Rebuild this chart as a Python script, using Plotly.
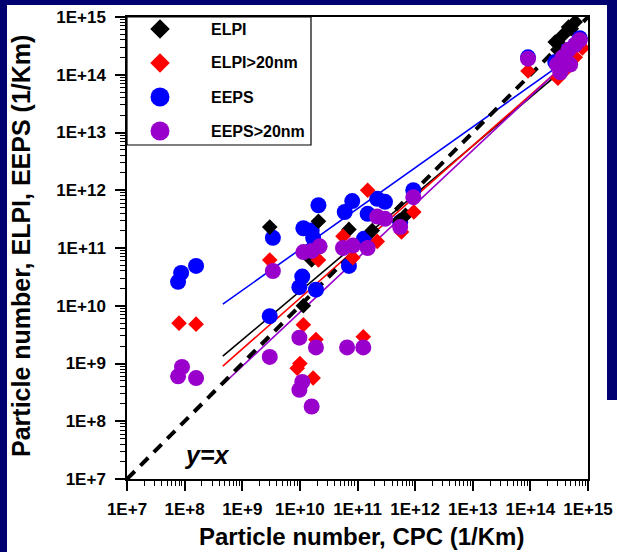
import numpy as np
import plotly.graph_objects as go

# ---------------- data ----------------
elpi_x = [3.0e9, 2.1e10, 1.6e10, 1.15e10, 7.1e10, 1.8e11, 5.3e11, 6.8e11,
          2.7e14, 4.6e14, 6.0e14, 3.7e14, 3.0e14]
elpi_y = [2.3e11, 2.9e11, 6.2e10, 1.0e10, 2.1e11, 2.0e11, 3.0e11, 3.7e11,
          3.7e14, 6.7e14, 8.2e14, 4.9e14, 2.7e14]

elpi20_x = [8.0e7, 1.58e8, 3.0e9, 2.1e10, 1.15e10, 1.0e10, 1.7e10, 1.9e10, 9.0e9,
            1.26e11, 1.5e11, 5.6e10, 2.2e11, 9.5e11, 8.3e10, 5.8e11,
            9.1e13, 3.0e14, 4.0e14, 6.0e14, 8.0e14, 3.3e14]
elpi20_y = [5.0e9, 4.8e9, 6.2e10, 6.2e10, 4.7e9, 1.0e9, 5.6e8, 2.6e9, 8.3e8,
            2.9e9, 1.0e12, 1.6e11, 1.3e11, 4.2e11, 6.8e10, 1.9e11,
            1.16e14, 8.7e13, 1.2e14, 2.0e14, 2.9e14, 1.3e14]

eeps_x = [7.7e7, 8.7e7, 1.58e8, 3.4e9, 3.0e9, 2.1e10, 1.15e10, 1.6e10, 1.7e10,
          1.1e10, 9.8e9, 1.9e10, 8.1e10, 6.0e10, 1.5e11, 2.2e11, 3.0e11, 9.3e11,
          7.1e10, 1.3e11, 5.5e11,
          9.1e13, 2.7e14, 4.0e14, 6.0e14, 7.2e14]
eeps_y = [2.6e10, 3.7e10, 4.9e10, 1.5e11, 6.6e9, 5.5e11, 2.2e11, 2.0e11, 1.5e11,
          3.2e10, 2.1e10, 1.9e10, 6.5e11, 4.2e11, 3.9e11, 7.1e11, 6.3e11, 1.0e12,
          4.9e10, 1.45e11, 2.8e11,
          2.0e14, 1.66e14, 2.5e14, 3.3e14, 4.3e14]

eeps20_x = [7.7e7, 9.0e7, 1.58e8, 3.4e9, 3.0e9, 1.15e10, 1.6e10, 2.2e10, 9.8e9,
            1.9e10, 1.1e10, 9.8e9, 1.6e10, 6.6e10, 1.26e11, 5.6e10, 8.3e10,
            1.5e11, 2.2e11, 3.0e11, 5.5e11, 9.3e11,
            9.1e13, 2.9e14, 3.6e14, 4.6e14, 6.0e14, 7.2e14, 4.9e14, 3.3e14]
eeps20_y = [6.0e8, 8.7e8, 5.6e8, 4.0e10, 1.3e9, 8.5e10, 8.9e10, 1.07e11, 2.8e9,
            1.9e9, 4.8e8, 3.5e8, 1.8e8, 1.9e9, 1.9e9, 1.0e11, 1.1e11,
            1.0e11, 3.5e11, 3.2e11, 2.3e11, 7.6e11,
            1.9e14, 1.5e14, 2.0e14, 2.7e14, 3.3e14, 4.0e14, 1.5e14, 1.1e14]

# power-law fits (log10 y = intercept + slope * log10 x)
fit_slope = {"ELPI": 0.84, "ELPI>20nm": 0.88, "EEPS": 0.708, "EEPS>20nm": 0.935}
fit_intercept = {"ELPI": 1.85, "ELPI>20nm": 1.33, "EEPS": 3.894, "EEPS>20nm": 0.536}
fit_x_range = [4.6e8, 5.6e14]

identity_range = [1e7, 1e15]

tick_exponents = list(range(7, 16))
tick_labels = ["1E+%d" % k for k in tick_exponents]

series_names = ["ELPI", "ELPI>20nm", "EEPS", "EEPS>20nm"]

# ---------------- styling ----------------
FONT = "Liberation Sans, Arial, sans-serif"
NAVY = "#000070"
colors = {"ELPI": "black", "ELPI>20nm": "#FF0000", "EEPS": "#0000FF", "EEPS>20nm": "#9900CC"}
symbols = {"ELPI": "diamond", "ELPI>20nm": "diamond", "EEPS": "circle", "EEPS>20nm": "circle"}
sizes = {"ELPI": 12, "ELPI>20nm": 12, "EEPS": 16, "EEPS>20nm": 16}
leg_sizes = {"ELPI": 15, "ELPI>20nm": 15, "EEPS": 19, "EEPS>20nm": 19}

W, H = 617, 552
L, R, T, B = 127, 588, 17, 479  # plot area in pixels


def fx(p):
    return (p - L) / (R - L)


def fy(p):
    return (B - p) / (B - T)


fig = go.Figure()

# fit lines
for name in ["EEPS", "ELPI", "ELPI>20nm", "EEPS>20nm"]:
    lx = np.linspace(np.log10(fit_x_range[0]), np.log10(fit_x_range[1]), 50)
    ly = fit_intercept[name] + fit_slope[name] * lx
    fig.add_trace(go.Scatter(x=10 ** lx, y=10 ** ly, mode="lines",
                             line=dict(color=colors[name], width=1.6),
                             hoverinfo="skip", showlegend=False))

# y = x
fig.add_trace(go.Scatter(x=identity_range, y=identity_range, mode="lines",
                         line=dict(color="black", width=4, dash="11px,8px"),
                         showlegend=False))

data = {"ELPI": (elpi_x, elpi_y), "ELPI>20nm": (elpi20_x, elpi20_y),
        "EEPS": (eeps_x, eeps_y), "EEPS>20nm": (eeps20_x, eeps20_y)}
for name in ["EEPS", "ELPI", "ELPI>20nm", "EEPS>20nm"]:
    xs, ys = data[name]
    fig.add_trace(go.Scatter(x=xs, y=ys, mode="markers", name=name,
                             marker=dict(symbol=symbols[name], size=sizes[name],
                                         color=colors[name], line=dict(width=0)),
                             showlegend=False))

# manual legend on an overlay axis
leg_rows_px = [29, 63, 97, 131]
for name, rp in zip(series_names, leg_rows_px):
    fig.add_trace(go.Scatter(x=[fx(160)], y=[fy(rp)], mode="markers",
                             xaxis="x2", yaxis="y2", cliponaxis=False,
                             marker=dict(symbol=symbols[name], size=leg_sizes[name],
                                         color=colors[name], line=dict(width=0)),
                             showlegend=False, hoverinfo="skip"))
    fig.add_annotation(x=fx(209), y=fy(rp), xref="paper", yref="paper",
                       text="<b>%s</b>" % name.replace(">", "&gt;"), showarrow=False,
                       xanchor="left", yanchor="middle",
                       font=dict(family=FONT, size=16, color="black"))

shapes = [
    dict(type="rect", xref="paper", yref="paper", x0=fx(L), x1=fx(311), y0=fy(145), y1=fy(T),
         line=dict(color="black", width=1.2), fillcolor="rgba(0,0,0,0)", layer="above"),
    # navy slide border
    dict(type="rect", xref="paper", yref="paper", x0=fx(0), x1=fx(7), y0=fy(H), y1=fy(0),
         line=dict(width=0), fillcolor=NAVY, layer="above"),
    dict(type="rect", xref="paper", yref="paper", x0=fx(0), x1=fx(W), y0=fy(5), y1=fy(0),
         line=dict(width=0), fillcolor=NAVY, layer="above"),
    dict(type="rect", xref="paper", yref="paper", x0=fx(607), x1=fx(W), y0=fy(400), y1=fy(0),
         line=dict(width=0), fillcolor=NAVY, layer="above"),
]

major_vals = [10.0 ** k for k in tick_exponents]
minor_vals = [m * 10.0 ** k for k in tick_exponents[:-1] for m in range(2, 10)]

axis_common = dict(
    type="log", range=[7, 15], showgrid=False, zeroline=False,
    showline=True, linecolor="black", linewidth=1.5, mirror=True,
    ticks="outside", ticklen=10, tickwidth=1.5, tickcolor="black",
    tickmode="array", tickvals=major_vals, tickangle=0,
    ticktext=["<b>%s</b>" % t for t in tick_labels],
    tickfont=dict(family=FONT, size=17, color="black"),
    minor=dict(tickmode="array", tickvals=minor_vals, ticks="outside",
               ticklen=5, tickwidth=1, tickcolor="black", showgrid=False),
)

fig.update_layout(
    width=W, height=H,
    margin=dict(l=L, r=W - R, t=T, b=H - B, autoexpand=False),
    paper_bgcolor="white", plot_bgcolor="white",
    showlegend=False,
    font=dict(family=FONT, color="black"),
    xaxis=dict(**axis_common, ticklabelstandoff=4),
    yaxis=dict(**axis_common, ticklabelstandoff=6),
    xaxis2=dict(overlaying="x", range=[0, 1], visible=False, fixedrange=True),
    yaxis2=dict(overlaying="y", range=[0, 1], visible=False, fixedrange=True),
    shapes=shapes,
)

# axis titles and y=x label
fig.add_annotation(x=fx(361), y=fy(536), xref="paper", yref="paper",
                   text="<b>Particle number, CPC (1/Km)</b>", showarrow=False,
                   xanchor="center", yanchor="middle",
                   font=dict(family=FONT, size=24, color="black"))
fig.add_annotation(x=fx(21), y=fy(246), xref="paper", yref="paper",
                   text="<b>Particle number, ELPI, EEPS (1/Km)</b>", showarrow=False,
                   textangle=-90, xanchor="center", yanchor="middle",
                   font=dict(family=FONT, size=25, color="black"))
fig.add_annotation(x=fx(207), y=fy(455), xref="paper", yref="paper",
                   text="<b><i>y=x</i></b>", showarrow=False,
                   xanchor="center", yanchor="middle",
                   font=dict(family=FONT, size=25, color="black"))

fig.write_html(
    "out.html",
    config={"displayModeBar": False},
    post_script="document.body.style.margin='0';document.body.style.overflow='hidden';",
)
